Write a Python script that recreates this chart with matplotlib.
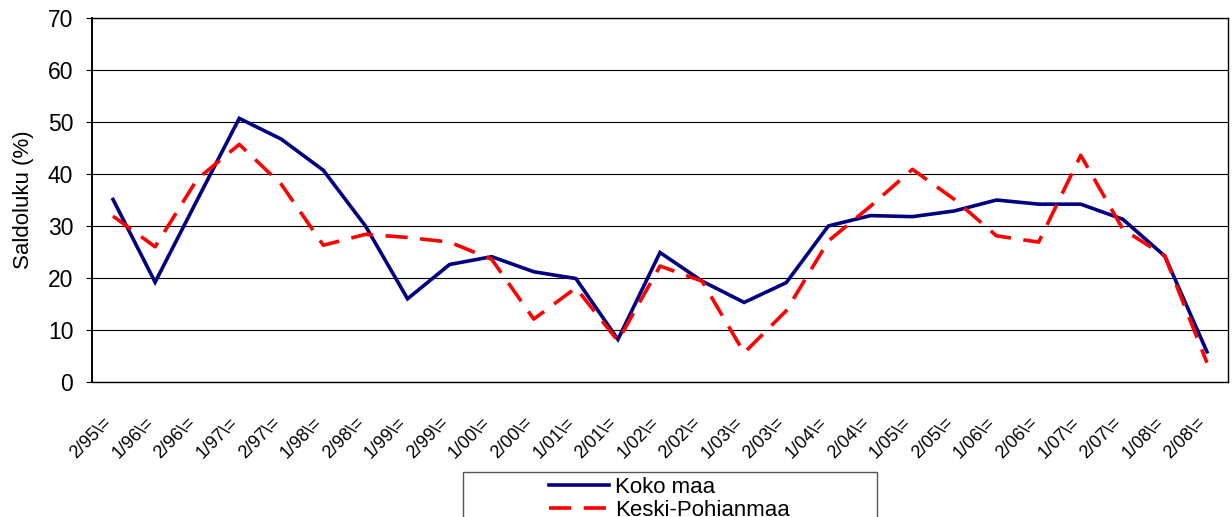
import matplotlib
matplotlib.use("Agg")
import matplotlib.pyplot as plt
import matplotlib.transforms as mtransforms
from matplotlib.patches import Rectangle

plt.rcParams['font.family'] = ['Liberation Sans', 'DejaVu Sans']
plt.rcParams['lines.scale_dashes'] = False

categories = ["2/95\\=", "1/96\\=", "2/96\\=", "1/97\\=", "2/97\\=", "1/98\\=", "2/98\\=",
              "1/99\\=", "2/99\\=", "1/00\\=", "2/00\\=", "1/01\\=", "2/01\\=", "1/02\\=",
              "2/02\\=", "1/03\\=", "2/03\\=", "1/04\\=", "2/04\\=", "1/05\\=", "2/05\\=",
              "1/06\\=", "2/06\\=", "1/07\\=", "2/07\\=", "1/08\\=", "2/08\\="]
koko_maa = [35.1, 19.2, 35.0, 50.7, 46.7, 40.7, 30.0, 16.0, 22.6, 24.1, 21.2, 19.9, 8.2,
            24.9, 19.4, 15.3, 19.1, 30.0, 32.0, 31.8, 32.9, 35.0, 34.2, 34.2, 31.3, 24.2, 5.8]
keski_pohjanmaa = [31.9, 26.0, 39.0, 45.7, 38.0, 26.3, 28.4, 27.8, 26.9, 23.6, 12.1, 18.1, 7.9,
                   22.3, 19.4, 5.6, 13.7, 27.1, 33.8, 40.9, 35.1, 28.1, 26.9, 43.6, 29.4, 24.2, 3.7]
series_names = ["Koko maa", "Keski-Pohianmaa"]
y_ticks = [0, 10, 20, 30, 40, 50, 60, 70]
y_label = "Saldoluku (%)"

W, H = 1232, 517
fig = plt.figure(figsize=(W / 100, H / 100), dpi=100)
ax = fig.add_axes([92 / W, 1 - 382 / H, (1228 - 92) / W, (382 - 18) / H])

x = list(range(len(categories)))
l1, = ax.plot(x, koko_maa, color='#000080', lw=2.6, solid_joinstyle='miter', zorder=3)
l2, = ax.plot(x, keski_pohjanmaa, color='#ff0000', lw=2.6, dashes=(16, 9), zorder=4)

ax.set_xlim(-0.5, len(categories) - 0.5)
ax.set_ylim(0, 70)
ax.set_yticks(y_ticks)
ax.set_yticklabels([str(v) for v in y_ticks], fontsize=16.5)
ax.yaxis.grid(True, color='#000000', lw=0.8)
ax.set_axisbelow(True)
ax.tick_params(axis='y', direction='out', length=4.5, width=0.8, pad=9)
ax.set_ylabel(y_label, fontsize=16, labelpad=10)

ax.set_xticks(x)
ax.set_xticklabels(categories, fontsize=13, rotation=45, ha='right', va='top',
                   rotation_mode='anchor')
ax.tick_params(axis='x', length=0, pad=23)
offset = mtransforms.ScaledTranslation(-10 / 100, 0, fig.dpi_scale_trans)
for lab in ax.get_xticklabels():
    lab.set_transform(lab.get_transform() + offset)

for s in ax.spines.values():
    s.set_color('black')
    s.set_linewidth(1.0)
ax.spines['left'].set_linewidth(1.4)

# legend box
fig.patches.append(Rectangle((463 / W, -0.1), (877 - 463) / W, (517 - 472) / H + 0.1,
                             transform=fig.transFigure, facecolor='white',
                             edgecolor='#555555', lw=1.0, zorder=0))
leg = fig.legend([l1, l2], series_names, loc='upper left',
                 bbox_to_anchor=(549 / W, 1 - 477 / H), frameon=False,
                 fontsize=16, handlelength=2.7, handletextpad=0.27,
                 labelspacing=0.1, borderpad=0, borderaxespad=0)

fig.savefig("out.png", dpi=100)
